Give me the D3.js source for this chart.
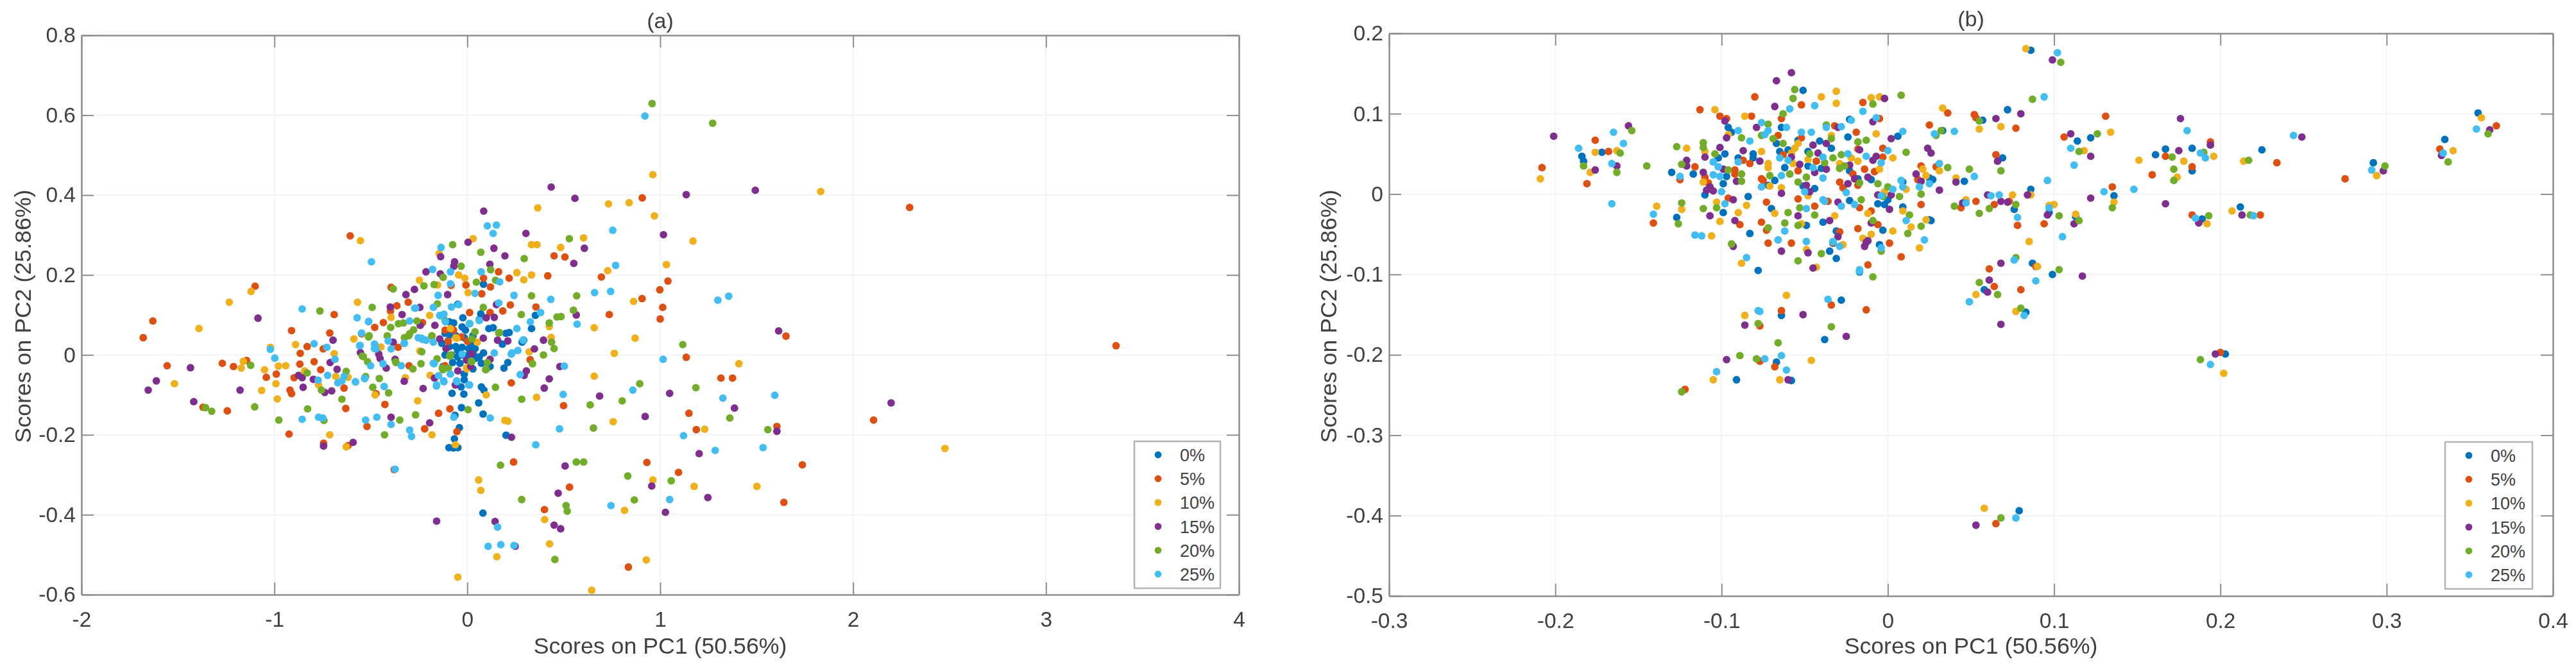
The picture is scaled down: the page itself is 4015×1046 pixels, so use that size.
<!DOCTYPE html>
<html>
<head>
<meta charset="utf-8">
<title>PCA scores</title>
<script src="https://cdn.jsdelivr.net/npm/d3@7"></script>
<style>
  html, body { margin: 0; background: #fff; }
  svg { display: block; filter: blur(0.7px); }
  text { font-family: "Liberation Sans", Arial, sans-serif; fill: #404040; }
</style>
</head>
<body>
<script>
// panel (a) scores, one array per level
const a0 = [[-0.023,0.093],[0.07,0.103],[-0.093,0.083],[-0.071,0.08],[-0.027,0.07],[-0.01,0.062],[0.012,0.078],[0.062,0.088],[0.112,0.066],[0.134,0.068],[-0.049,0.127],[0.084,0.177],[0.353,0.099],[0.333,0.066],[0.217,0.056],[0.2,0.054],[0.292,0.037],[0.284,0.032],[0.182,0.027],[-0.115,0.054],[-0.132,0.029],[-0.093,0.021],[-0.06,0.021],[-0.027,0.019],[0.007,0.016],[0.04,0.016],[-0.049,0.011],[-0.082,0],[-0.115,0],[-0.027,0],[0.084,0.005],[0.062,-0.005],[0.073,-0.021],[0.045,-0.008],[-0.076,-0.019],[-0.038,-0.021],[0.118,-0.029],[0.21,-0.019],[0.19,-0.033],[-0.126,-0.029],[0.029,-0.035],[-0.016,-0.048],[-0.016,-0.062],[-0.032,-0.08],[-0.079,-0.096],[-0.018,-0.098],[0.073,-0.08],[0.086,-0.088],[0.059,-0.12],[-0.03,-0.132],[0.082,-0.148],[-0.064,-0.151],[-0.041,-0.182],[-0.067,-0.21],[-0.095,-0.232],[-0.049,-0.232],[-0.072,-0.233],[0.201,-0.201],[0.081,-0.396],[-0.06,0.048],[-0.016,0.043],[0.029,0.048],[0.007,0],[-0.09,0.05],[0.02,0.03],[-0.05,-0.005],[0.03,0.005],[-0.1,0.035]];
const a5 = [[-1.68,0.043],[-1.63,0.085],[-1.556,-0.027],[-1.37,-0.131],[-1.27,-0.021],[-1.244,-0.14],[-1.212,-0.029],[-1.144,-0.014],[-1.1,0.172],[-1.042,-0.056],[-0.99,-0.048],[-0.924,-0.198],[-0.919,-0.088],[-0.911,0.061],[-0.911,-0.097],[-0.898,-0.057],[-0.868,-0.023],[-0.866,0.004],[-0.83,0.021],[-0.794,-0.017],[-0.76,-0.037],[-0.747,0.015],[-0.745,-0.221],[-0.713,0.055],[-0.69,0.101],[-0.639,-0.083],[-0.63,-0.134],[-0.607,0.298],[-0.618,-0.227],[-0.52,-0.179],[-0.48,0.069],[-0.473,-0.097],[-0.435,0.081],[-0.427,-0.124],[-0.395,0.169],[-0.379,-0.287],[-0.365,0.123],[-0.306,0.132],[-0.359,0.019],[-0.302,-0.027],[-0.548,0.053],[-0.398,0.11],[-0.232,0.081],[-0.115,0.062],[-0.071,0.062],[-0.099,0.034],[-0.032,0.045],[0.001,0.034],[-0.115,-0.027],[0.012,0.106],[0.118,0.106],[0.184,0.11],[0.223,0.125],[0.356,0.12],[0.075,0.153],[-0.007,0.175],[-0.084,0.174],[0.084,0.192],[0.12,0.17],[0.162,0.208],[0.217,0.192],[0.417,0.198],[0.45,0.248],[0.506,0.245],[0.228,-0.07],[0.326,-0.012],[0.499,-0.127],[-0.09,-0.135],[-0.149,-0.146],[-0.221,-0.185],[-0.054,-0.192],[0.907,0.393],[0.695,0.195],[1.04,0.185],[0.998,0.163],[0.906,0.141],[1.013,0.119],[1.0,0.09],[0.736,0.101],[1.135,-0.006],[1.315,-0.058],[1.375,-0.058],[1.149,-0.146],[1.187,-0.187],[0.931,-0.269],[1.095,-0.294],[0.53,-0.331],[0.4,-0.387],[0.835,-0.531],[0.24,-0.268],[2.293,0.369],[1.652,0.047],[1.605,-0.179],[2.106,-0.163],[1.737,-0.275],[1.641,-0.369],[3.363,0.023]];
const a10 = [[-1.518,-0.072],[-1.391,0.066],[-1.234,0.132],[-1.172,-0.033],[-1.161,-0.016],[-1.121,0.159],[-1.066,-0.089],[-1.051,-0.037],[-1.021,0.019],[-0.992,-0.072],[-0.985,-0.11],[-0.979,-0.028],[-0.941,-0.027],[-0.89,0.026],[-0.843,-0.04],[-0.771,-0.075],[-0.713,-0.2],[-0.69,0.003],[-0.682,-0.054],[-0.628,-0.23],[-0.618,-0.056],[-0.588,0.04],[-0.569,0.132],[-0.554,0.286],[-0.478,-0.1],[-0.448,0.02],[-0.395,0.094],[-0.321,-0.057],[-0.257,-0.115],[-0.246,0.01],[-0.248,0.187],[-0.195,0.099],[-0.193,-0.051],[-0.183,-0.2],[-0.146,0.254],[-0.154,0.175],[-0.087,0.066],[-0.062,-0.225],[-0.049,-0.556],[-0.055,0.042],[-0.045,0.2],[-0.013,0.192],[0.004,0.156],[0.03,0.291],[0.051,0.032],[-0.002,-0.035],[0.059,-0.313],[0.07,-0.339],[0.098,-0.1],[0.153,-0.505],[0.195,-0.164],[0.21,-0.166],[0.257,0.206],[0.293,0.188],[0.333,0.2],[0.333,0.276],[0.361,0.276],[0.365,0.368],[0.321,0.008],[0.359,-0.106],[0.401,-0.412],[0.427,-0.473],[0.425,0.071],[0.435,0.044],[0.484,0.269],[0.603,0.293],[0.645,-0.589],[0.658,0.068],[0.658,-0.053],[0.728,0.211],[0.732,0.378],[0.756,-0.167],[0.762,0.004],[0.815,-0.389],[0.839,0.381],[0.862,0.134],[0.87,0.042],[0.962,0.451],[0.97,0.348],[1.17,0.285],[1.032,0.226],[1.832,0.409],[1.408,-0.022],[1.231,-0.186],[2.476,-0.234],[0.962,-0.313],[1.176,-0.329],[1.501,-0.329],[0.928,-0.513],[-0.004,-0.032],[-0.06,0.043]];
const a15 = [[-1.654,-0.088],[-1.612,-0.065],[-1.435,-0.032],[-1.418,-0.117],[-1.178,-0.088],[-1.085,0.092],[-0.875,-0.051],[-0.851,-0.081],[-0.856,-0.057],[-0.798,-0.061],[-0.745,-0.228],[-0.739,-0.094],[-0.711,-0.019],[-0.703,-0.09],[-0.696,0.037],[-0.675,-0.036],[-0.592,-0.219],[-0.554,0.006],[-0.459,0.002],[-0.452,-0.009],[-0.42,-0.033],[-0.399,0.12],[-0.395,-0.156],[-0.374,-0.011],[-0.384,0.032],[-0.338,0.101],[-0.327,-0.066],[-0.318,0.151],[-0.274,0.164],[-0.246,0.119],[-0.244,0.074],[-0.229,-0.084],[-0.214,0.208],[-0.195,-0.17],[-0.168,0.074],[-0.17,-0.058],[-0.159,-0.416],[-0.14,0.203],[-0.138,0.246],[-0.102,0.151],[-0.066,0.233],[-0.07,0.222],[0.004,0.282],[0.085,0.36],[0.138,0.267],[0.117,0.227],[0.195,0.248],[0.098,0.093],[0.14,0.094],[0.083,0.042],[0.157,0.037],[0.21,0.035],[0.144,-0.417],[0.229,-0.206],[0.248,-0.479],[0.304,0.304],[0.306,-0.04],[0.348,0.015],[0.395,0.037],[0.399,-0.083],[0.425,-0.06],[0.435,0.42],[0.45,-0.426],[0.471,-0.346],[0.484,-0.435],[0.48,-0.029],[0.507,-0.278],[0.552,0.229],[0.558,0.392],[0.565,0.1],[0.607,0.267],[0.686,-0.103],[1.017,0.301],[1.135,0.401],[1.049,-0.096],[1.385,-0.133],[0.922,-0.154],[1.202,-0.247],[0.956,-0.328],[1.247,-0.357],[1.027,-0.394],[2.197,-0.12],[1.614,0.06],[1.493,0.412],[1.605,-0.191],[0.295,-0.051],[0.151,0.126],[-0.143,0.04],[-0.11,0.016],[0.023,0.003],[-0.049,-0.04],[-0.004,-0.013],[0.018,-0.029],[0.118,-0.011],[-0.062,-0.075]];
const a20 = [[-1.357,-0.132],[-1.325,-0.141],[-1.123,-0.026],[-1.102,-0.13],[-0.977,-0.163],[-0.83,-0.045],[-0.828,-0.135],[-0.764,0.11],[-0.756,-0.088],[-0.743,-0.164],[-0.65,-0.111],[-0.628,-0.041],[-0.544,-0.003],[-0.527,-0.054],[-0.512,0.045],[-0.493,0.119],[-0.49,-0.081],[-0.456,-0.059],[-0.429,-0.2],[-0.408,-0.095],[-0.397,0.069],[-0.384,0.165],[-0.372,-0.017],[-0.35,-0.163],[-0.357,0.078],[-0.331,0.08],[-0.282,-0.035],[-0.268,-0.15],[-0.261,0.085],[-0.299,0.053],[-0.278,0.063],[-0.24,-0.022],[-0.236,0.008],[-0.225,0.173],[-0.172,0.176],[-0.183,0.047],[-0.125,0.194],[-0.155,0.128],[-0.13,-0.033],[-0.098,-0.033],[-0.076,0.276],[-0.032,0.222],[0.004,-0.137],[-0.087,0],[0.04,0.058],[0.023,-0.017],[0.07,0.257],[0.047,0.182],[0.121,0.213],[0.083,0.119],[0.098,-0.036],[0.146,-0.081],[0.146,0.187],[0.163,0.055],[0.172,-0.276],[0.282,-0.111],[0.28,0.101],[0.282,-0.362],[0.295,0.241],[0.333,0.148],[0.338,-0.022],[0.395,0],[0.425,0.08],[0.437,0.032],[0.45,0.016],[0.454,-0.512],[0.465,0.095],[0.486,0.096],[0.512,-0.377],[0.518,-0.391],[0.529,0.291],[0.55,0.112],[0.567,0.148],[0.565,-0.268],[0.603,-0.268],[0.637,-0.125],[0.654,-0.183],[0.803,-0.115],[0.832,-0.303],[0.866,-0.363],[0.894,-0.072],[0.958,0.629],[1.272,0.58],[1.117,0.026],[1.185,-0.082],[1.361,-0.158],[1.558,-0.187],[1.057,-0.315],[-0.304,0.048],[-0.326,0.043],[-0.184,0.048],[-0.115,0.086],[0.023,0.04],[0.167,0.056],[-0.157,-0.01],[-0.091,-0.003],[0.02,-0.016],[0.104,-0.019],[0.095,-0.037],[-0.126,-0.037],[-0.415,0.048],[-0.509,0.048],[-0.539,-0.004],[-0.517,-0.017],[-0.37,-0.019]];
const a25 = [[-1.021,0.014],[-0.998,-0.008],[-0.856,0.115],[-0.856,-0.161],[-0.794,0.028],[-0.773,-0.063],[-0.771,-0.156],[-0.749,-0.158],[-0.724,-0.051],[-0.728,0.019],[-0.686,-0.011],[-0.671,-0.07],[-0.65,-0.065],[-0.639,-0.054],[-0.58,-0.067],[-0.571,0.093],[-0.558,0.023],[-0.548,0.055],[-0.527,-0.163],[-0.533,-0.059],[-0.512,0.083],[-0.501,-0.027],[-0.497,0.233],[-0.48,0.026],[-0.473,0.015],[-0.469,-0.156],[-0.437,-0.022],[-0.431,-0.079],[-0.41,0.035],[-0.395,-0.174],[-0.395,0.015],[-0.374,-0.286],[-0.342,-0.027],[-0.327,0.029],[-0.299,0.085],[-0.299,-0.188],[-0.289,-0.204],[-0.268,0.117],[-0.236,0.042],[-0.214,0.037],[-0.18,0.214],[-0.172,-0.022],[-0.176,0.119],[-0.151,0.149],[-0.14,0.098],[-0.136,0.269],[-0.159,-0.075],[-0.123,-0.065],[-0.087,0.178],[-0.087,0.208],[-0.045,0.126],[-0.07,-0.156],[-0.055,-0.065],[0.008,-0.075],[0.04,0.154],[0.072,0.208],[0.104,0.323],[0.151,0.325],[0.134,0.304],[0.168,0.183],[0.163,0.13],[0.119,-0.158],[0.108,-0.479],[0.157,-0.431],[0.174,-0.475],[0.242,-0.477],[0.14,0.005],[0.242,0.149],[0.257,0.066],[0.231,0.005],[0.274,-0.049],[0.289,0.037],[0.327,0.083],[0.355,-0.225],[0.38,0.106],[0.433,0.139],[0.478,-0.185],[0.497,-0.099],[0.503,-0.028],[0.569,0.077],[0.66,0.156],[0.745,-0.377],[0.743,0.159],[0.754,0.312],[0.769,0.224],[0.858,-0.088],[0.921,0.598],[1.355,0.147],[1.299,0.137],[1.015,-0.011],[1.325,-0.108],[1.594,-0.101],[1.121,-0.202],[1.533,-0.232],[1.285,-0.239],[1.049,-0.362],[-0.273,0.117],[-0.143,0.099],[-0.121,0.102],[-0.082,0.12],[-0.113,0.083],[0.012,0.079],[0.062,0.086],[-0.254,0.043],[-0.232,0.039],[-0.326,0.029],[-0.176,0.032],[-0.556,0.024],[-0.481,0.027],[-0.481,0.016],[-0.027,0.002],[0.262,0.011],[0.228,0.002],[-0.176,-0.021],[-0.088,-0.048],[-0.149,-0.052],[-0.121,-0.067],[-0.16,-0.078],[-0.054,-0.067],[0.012,-0.075],[-0.579,-0.068],[-0.531,-0.059],[-0.511,0.084]];

// panel (b) scores
const b0 = [[-0.184,0.047],[-0.183,0.041],[-0.172,0.052],[-0.13,0.027],[-0.117,0.025],[-0.127,-0.029],[-0.11,-0.001],[-0.099,0.013],[-0.097,0.022],[-0.099,-0.023],[-0.084,-0.003],[-0.083,-0.049],[-0.096,0.083],[-0.094,0.077],[-0.102,0.045],[-0.098,0.05],[-0.09,0.045],[-0.081,0.05],[-0.081,0.045],[-0.078,-0.095],[-0.07,-0.018],[-0.068,0.017],[-0.062,0.033],[-0.065,0.053],[-0.064,0.083],[-0.067,0.063],[-0.06,0.055],[-0.054,0.067],[-0.048,0.053],[-0.049,-0.039],[-0.044,0.007],[-0.051,0.01],[-0.041,0.066],[-0.039,-0.035],[-0.064,-0.151],[-0.051,0.129],[-0.034,0.057],[-0.048,0.035],[-0.04,0.032],[-0.072,0.011],[-0.024,0.071],[-0.023,0.093],[-0.023,0.029],[-0.018,0.019],[-0.01,0.018],[-0.023,-0.008],[-0.031,-0.046],[-0.035,-0.071],[-0.031,-0.08],[-0.017,-0.097],[-0.003,-0.045],[-0.005,-0.063],[-0.028,-0.132],[-0.006,-0.012],[-0.002,-0.013],[0,-0.007],[0.006,0.072],[0.009,0.015],[0.033,0.079],[0.027,0.018],[0.009,-0.016],[0.026,-0.033],[0.072,0.105],[0.057,0.092],[0.069,0.045],[0.046,0.016],[0.086,0.006],[0.076,-0.019],[0.097,-0.023],[0.113,-0.028],[0.114,0.066],[0.122,0.07],[0.136,-0.002],[0.087,-0.086],[0.099,-0.1],[0.058,-0.119],[0.083,-0.147],[0.086,0.179],[0.025,0.02],[0.025,-0.032],[0.079,-0.394],[0.161,0.049],[0.167,0.056],[0.183,0.057],[0.183,0.029],[0.225,0.055],[0.189,-0.031],[0.212,-0.016],[0.203,-0.199],[0.292,0.039],[0.335,0.068],[0.355,0.101],[-0.091,-0.231],[-0.067,-0.209],[-0.058,-0.232],[-0.038,-0.181]];
const b5 = [[-0.208,0.033],[-0.181,0.013],[-0.176,0.067],[-0.168,0.053],[-0.141,-0.036],[-0.125,0.018],[-0.116,0.034],[-0.113,0.105],[-0.101,0.097],[-0.097,0.094],[-0.11,0.021],[-0.108,0.014],[-0.096,-0.005],[-0.089,-0.038],[-0.087,0.042],[-0.083,0.038],[-0.082,0.097],[-0.092,0.03],[-0.092,0.025],[-0.08,0.121],[-0.073,-0.01],[-0.076,-0.035],[-0.073,-0.045],[-0.072,-0.061],[-0.058,-0.061],[-0.064,0.094],[-0.052,0.111],[-0.066,0.073],[-0.076,0.019],[-0.075,0.017],[-0.054,0.029],[-0.054,-0.006],[-0.044,-0.015],[-0.043,0.041],[-0.064,-0.145],[-0.052,0.07],[-0.063,0.049],[-0.032,0.085],[-0.019,0.077],[-0.029,0.015],[-0.027,0.008],[-0.036,-0.009],[-0.021,0.025],[-0.018,0.011],[-0.014,0.031],[-0.015,0.114],[-0.018,0.056],[-0.008,0.028],[-0.003,0.057],[-0.003,0.046],[-0.005,0.094],[-0.017,-0.017],[-0.01,-0.021],[-0.018,-0.043],[-0.006,-0.038],[0.001,-0.061],[-0.029,-0.047],[-0.012,-0.088],[0.008,-0.078],[0.025,0.086],[0.036,0.101],[0.029,0.034],[0.02,0.035],[0.018,0.018],[0.02,-0.013],[0.052,0.099],[0.053,0.095],[0.077,0.082],[0.065,0.049],[0.044,-0.017],[0.053,-0.009],[0.064,-0.013],[0.073,-0.009],[0.078,-0.039],[0.094,-0.037],[0.106,0.071],[0.131,0.097],[0.135,0.009],[0.089,-0.09],[0.061,-0.093],[0.064,-0.115],[0.08,-0.119],[0.065,-0.41],[0.194,0.065],[0.167,0.047],[0.159,0.024],[0.183,0.034],[0.234,0.039],[0.183,-0.026],[0.224,-0.026],[0.2,-0.197],[0.275,0.019],[0.332,0.056],[0.366,0.085],[-0.034,-0.138],[-0.013,-0.144],[-0.077,-0.164],[-0.077,-0.208],[-0.068,-0.215],[-0.122,-0.243]];
const b10 = [[-0.209,0.019],[-0.179,0.027],[-0.176,0.052],[-0.163,0.054],[-0.139,-0.015],[-0.124,-0.019],[-0.121,0.057],[-0.11,0.053],[-0.111,0.015],[-0.104,0.105],[-0.096,0.074],[-0.086,0.097],[-0.103,-0.01],[-0.09,-0.023],[-0.101,-0.034],[-0.106,-0.052],[-0.088,-0.086],[-0.085,-0.014],[-0.076,0.053],[-0.072,0.038],[-0.072,0.033],[-0.071,0.01],[-0.064,0.008],[-0.068,-0.024],[-0.061,-0.126],[-0.086,-0.151],[-0.054,0.063],[-0.056,0.057],[-0.058,0.051],[-0.057,0.038],[-0.04,0.121],[-0.048,-0.002],[-0.052,-0.037],[-0.049,-0.069],[-0.043,-0.091],[-0.048,0.043],[-0.031,0.128],[-0.031,0.113],[-0.01,0.12],[-0.005,0.121],[-0.007,0.075],[-0.034,0.073],[-0.029,0.038],[-0.022,0.045],[-0.018,0.041],[-0.032,-0.027],[-0.027,-0.063],[-0.015,-0.055],[-0.01,-0.05],[-0.012,-0.024],[-0.005,0.031],[0.003,0.045],[-0.002,0.003],[0.011,0.006],[0.009,-0.021],[0.003,-0.046],[0.014,-0.041],[0.023,-0.032],[0.019,-0.067],[0.033,0.107],[0.031,0.029],[0.021,0.031],[0.023,0.023],[0.055,0.081],[0.068,0.084],[0.041,0.02],[0.047,-0.007],[0.075,-0.001],[0.086,-0.001],[0.097,-0.014],[0.1,-0.013],[0.113,-0.025],[0.085,-0.059],[0.09,-0.09],[0.053,-0.125],[0.118,0.054],[0.134,0.077],[0.136,-0.01],[0.151,0.042],[0.083,0.181],[0.174,0.021],[0.178,0.041],[0.196,0.047],[0.214,0.041],[0.207,-0.021],[0.192,-0.037],[0.202,-0.223],[0.058,-0.391],[0.294,0.023],[0.34,0.054],[0.357,0.095],[0.077,-0.146],[-0.065,-0.231],[-0.105,-0.231],[-0.046,-0.207]];
const b15 = [[-0.201,0.072],[-0.176,0.03],[-0.156,0.085],[-0.163,0.035],[-0.121,0.042],[-0.121,0.035],[-0.111,0.027],[-0.107,0.009],[-0.109,0.005],[-0.105,0.004],[-0.101,0.058],[-0.11,0.046],[-0.099,0.031],[-0.097,0.07],[-0.098,0.091],[-0.107,-0.027],[-0.093,-0.007],[-0.092,-0.033],[-0.093,-0.065],[-0.087,0.054],[-0.091,0.016],[-0.079,0.083],[-0.077,0.041],[-0.068,0.109],[-0.064,-0.071],[-0.051,-0.15],[-0.064,0.001],[-0.058,0.046],[-0.053,0.037],[-0.054,-0.027],[-0.049,0.011],[-0.047,0.003],[-0.045,0.061],[-0.042,0.051],[-0.044,0.027],[-0.037,0.031],[-0.048,-0.073],[-0.045,-0.092],[-0.037,0.063],[-0.067,0.141],[-0.058,0.151],[-0.035,-0.033],[-0.03,0.083],[-0.03,-0.01],[-0.03,-0.053],[-0.024,0.013],[-0.023,0.036],[-0.033,-0.061],[-0.017,0.055],[-0.02,0.019],[-0.012,0.021],[-0.009,0.09],[-0.002,0.119],[-0.009,0.042],[-0.007,0.047],[-0.013,-0.06],[-0.012,-0.058],[-0.014,-0.065],[-0.01,-0.036],[-0.006,-0.001],[0.002,-0.001],[0.002,0.069],[0.001,-0.019],[0.024,0.057],[0.026,0.051],[0.017,0.025],[0.02,0.016],[0.031,0.005],[0.041,0.015],[0.065,0.094],[0.08,0.1],[0.066,0.041],[0.06,-0.001],[0.045,-0.011],[0.068,-0.009],[0.072,-0.01],[0.084,-0.001],[0.096,-0.026],[0.112,-0.037],[0.11,0.075],[0.122,0.047],[0.122,-0.005],[0.068,-0.086],[0.061,-0.107],[0.06,-0.122],[0.117,-0.102],[0.099,0.167],[0.068,-0.162],[0.053,-0.412],[0.176,0.094],[0.175,0.054],[0.194,0.061],[0.167,-0.012],[0.187,-0.036],[0.213,-0.026],[0.249,0.071],[0.197,-0.199],[0.298,0.029],[0.333,0.048],[0.362,0.08],[-0.086,-0.163],[-0.025,-0.177],[-0.097,-0.206],[-0.06,-0.231]];
const b20 = [[-0.183,0.035],[-0.161,0.051],[-0.154,0.079],[-0.163,0.027],[-0.145,0.035],[-0.127,0.059],[-0.124,0.037],[-0.126,-0.037],[-0.124,-0.011],[-0.111,0.064],[-0.111,0.058],[-0.104,0.05],[-0.111,-0.018],[-0.103,-0.017],[-0.096,0.03],[-0.088,0.07],[-0.088,0.025],[-0.088,0.016],[-0.094,-0.062],[-0.076,0.073],[-0.072,0.087],[-0.069,0.069],[-0.063,0.1],[-0.063,0.063],[-0.057,0.119],[-0.056,0.13],[-0.071,0.023],[-0.072,-0.042],[-0.062,-0.036],[-0.06,-0.023],[-0.059,0.025],[-0.054,0.015],[-0.049,0.021],[-0.053,-0.017],[-0.054,-0.039],[-0.044,-0.026],[-0.054,-0.083],[-0.04,-0.074],[-0.037,0.086],[-0.047,0.05],[-0.038,0.039],[-0.034,0.069],[-0.033,0.045],[-0.028,0.049],[-0.029,0.032],[-0.026,0.035],[-0.018,0.065],[-0.013,0.067],[-0.009,0.112],[-0.017,0.014],[-0.006,0.013],[0,0.009],[-0.016,-0.007],[-0.009,-0.033],[-0.004,-0.071],[-0.009,-0.103],[0.008,0.123],[0.011,0.052],[0.007,-0.003],[0.02,0],[0.013,-0.026],[0.02,-0.04],[0.012,-0.049],[0.029,0.073],[0.032,0.079],[0.036,0.033],[0.04,-0.015],[-0.003,-0.003],[-0.033,-0.06],[0.087,0.118],[0.055,0.091],[0.068,0.029],[0.049,0.031],[0.055,-0.024],[0.061,-0.018],[0.077,-0.013],[0.103,-0.027],[0.115,-0.033],[0.126,0.075],[0.115,0.053],[0.135,-0.017],[0.077,-0.079],[0.103,-0.094],[0.055,-0.11],[0.066,-0.125],[0.104,0.164],[0.08,-0.142],[0.068,-0.403],[0.171,0.046],[0.19,0.052],[0.172,0.031],[0.172,0.017],[0.217,0.042],[0.193,-0.027],[0.218,-0.026],[0.188,-0.206],[0.299,0.035],[0.337,0.04],[0.361,0.075],[-0.066,-0.185],[-0.089,-0.201],[-0.079,-0.205],[-0.078,-0.161],[-0.034,-0.165],[-0.124,-0.246]];
const b25 = [[-0.186,0.057],[-0.165,0.077],[-0.159,0.063],[-0.166,0.038],[-0.166,-0.012],[-0.141,-0.025],[-0.125,0.022],[-0.116,-0.051],[-0.112,-0.052],[-0.105,0.04],[-0.102,0.034],[-0.105,0.024],[-0.101,0.022],[-0.1,0.003],[-0.098,-0.012],[-0.09,0.079],[-0.083,0.066],[-0.09,0.04],[-0.085,-0.079],[-0.076,0.089],[-0.074,0.074],[-0.072,0.079],[-0.076,0.009],[-0.064,0.023],[-0.066,-0.057],[-0.062,-0.046],[-0.049,-0.059],[-0.077,-0.146],[-0.061,0.083],[-0.065,0.045],[-0.06,0.042],[-0.052,0.077],[-0.046,0.077],[-0.059,0.106],[-0.044,0.11],[-0.05,0.003],[-0.049,-0.018],[-0.039,-0.007],[-0.045,0.033],[-0.039,0.046],[-0.037,0.083],[-0.039,0.02],[-0.028,0.084],[-0.022,0.092],[-0.015,0.103],[-0.007,0.095],[-0.024,0.05],[-0.013,0.047],[-0.004,0.039],[0,0.054],[-0.025,0.002],[-0.038,-0.009],[-0.028,-0.015],[-0.02,-0.013],[-0.004,-0.002],[-0.033,-0.059],[-0.029,-0.065],[-0.004,-0.067],[-0.017,-0.096],[-0.036,-0.131],[0.009,0.078],[0.003,0.006],[0.008,0.017],[0.009,0.009],[0.019,0.009],[0.025,0.013],[0.031,0.038],[0.028,0.075],[0.04,0.078],[0.011,-0.033],[0.022,-0.057],[0.094,0.121],[0.052,0.022],[0.062,-0.002],[0.067,-0.001],[0.047,-0.011],[0.078,-0.029],[0.096,0.017],[0.097,-0.017],[0.11,0.057],[0.112,0.036],[0.13,0.003],[0.148,0.006],[0.105,-0.053],[0.076,-0.082],[0.089,-0.108],[0.049,-0.134],[0.102,0.176],[0.082,-0.151],[0.077,-0.403],[0.18,0.079],[0.188,0.051],[0.191,0.045],[0.185,-0.03],[0.22,-0.027],[0.244,0.073],[0.194,-0.212],[0.291,0.03],[0.334,0.051],[0.354,0.081],[-0.078,-0.145],[-0.074,-0.205],[-0.064,-0.201],[-0.061,-0.219],[-0.103,-0.221],[-0.017,-0.094]];

const levels = ['0%', '5%', '10%', '15%', '20%', '25%'];
const colors = ['#0072BD', '#DE5012', '#EFB01C', '#7E2F8E', '#72AD2A', '#42BDF2'];

const xTicksA = [-2, -1, 0, 1, 2, 3, 4];
const yTicksA = [-0.6, -0.4, -0.2, 0, 0.2, 0.4, 0.6, 0.8];
const xTicksB = [-0.3, -0.2, -0.1, 0, 0.1, 0.2, 0.3, 0.4];
const yTicksB = [-0.5, -0.4, -0.3, -0.2, -0.1, 0, 0.1, 0.2];

const svg = d3.select('body').append('svg')
  .attr('width', 4015)
  .attr('height', 1046);

function drawPanel(p) {
  const x = d3.scaleLinear().domain(d3.extent(p.xTicks)).range([p.left, p.right]);
  const y = d3.scaleLinear().domain(d3.extent(p.yTicks)).range([p.bottom, p.top]);
  const w = p.right - p.left;
  const g = svg.append('g');

  // grid first, very light
  g.append('g').selectAll('line').data(p.xTicks).join('line')
    .attr('x1', d => x(d)).attr('x2', d => x(d)).attr('y1', p.top).attr('y2', p.bottom)
    .attr('stroke', '#f3f3f3').attr('stroke-width', 2);
  g.append('g').selectAll('line').data(p.yTicks).join('line')
    .attr('x1', p.left).attr('x2', p.right).attr('y1', d => y(d)).attr('y2', d => y(d))
    .attr('stroke', '#f3f3f3').attr('stroke-width', 2);

  // box with inward ticks on all four sides
  const fmt = d => String(d);
  const axes = [
    [d3.axisBottom(x).tickFormat(fmt), 0, p.bottom],
    [d3.axisLeft(y).tickFormat(fmt), p.left, 0],
    [d3.axisTop(x).tickFormat(''), 0, p.top],
    [d3.axisRight(y).tickFormat(''), p.right, 0]
  ];
  const bottomOrLeft = [true, true, false, false];
  axes.forEach((a, i) => {
    const isX = i % 2 === 0;
    const axis = a[0].tickValues(isX ? p.xTicks : p.yTicks).tickSizeInner(-19).tickSizeOuter(0);
    const ag = g.append('g').attr('transform', `translate(${a[1]},${a[2]})`).call(axis);
    ag.select('.domain').attr('stroke', '#8e8e8e').attr('stroke-width', 2.5);
    ag.selectAll('.tick line').attr('stroke', '#8e8e8e').attr('stroke-width', 2);
    if (bottomOrLeft[i]) {
      ag.selectAll('.tick text').attr('font-size', 33.5).attr('fill', '#404040');
      if (isX) ag.selectAll('.tick text').attr('y', 26);
      else ag.selectAll('.tick text').attr('x', -9);
    }
  });

  // 0% goes down first so the others sit on top of it
  p.series.forEach((s, i) => {
    g.append('g').selectAll('circle').data(s).join('circle')
      .attr('cx', d => x(d[0]))
      .attr('cy', d => y(d[1]))
      .attr('r', 5.9)
      .attr('fill', colors[i]);
  });

  g.append('text')
    .attr('x', p.left + w / 2).attr('y', p.top - 11)
    .attr('text-anchor', 'middle').attr('font-size', 34)
    .text(p.title);
  g.append('text')
    .attr('x', p.left + w / 2).attr('y', 1019)
    .attr('text-anchor', 'middle').attr('font-size', 35.7)
    .text('Scores on PC1 (50.56%)');
  g.append('text')
    .attr('transform', `translate(${p.yLabelX},${493}) rotate(-90)`)
    .attr('text-anchor', 'middle').attr('font-size', 35.7)
    .text('Scores on PC2 (25.86%)');

  // legend
  const lg = g.append('g').attr('transform', `translate(${p.legend[0]},${p.legend[1]})`);
  lg.append('rect')
    .attr('width', p.legend[2]).attr('height', 229)
    .attr('fill', '#fff').attr('stroke', '#b4b4b4').attr('stroke-width', 2.5);
  levels.forEach((t, i) => {
    const rowY = 21 + i * 37.2;
    lg.append('circle').attr('cx', 37).attr('cy', rowY).attr('r', 5.4).attr('fill', colors[i]);
    lg.append('text').attr('x', 71).attr('y', rowY + 10)
      .attr('font-size', 27).attr('fill', '#262626').text(t);
  });
}

drawPanel({
  title: '(a)', series: [a0, a5, a10, a15, a20, a25],
  xTicks: xTicksA, yTicks: yTicksA,
  left: 127, right: 1931, top: 55, bottom: 927,
  yLabelX: 48, legend: [1768, 688, 134]
});
drawPanel({
  title: '(b)', series: [b0, b5, b10, b15, b20, b25],
  xTicks: xTicksB, yTicks: yTicksB,
  left: 2165, right: 3979, top: 52, bottom: 929,
  yLabelX: 2083, legend: [3811, 689, 136]
});
</script>
</body>
</html>
